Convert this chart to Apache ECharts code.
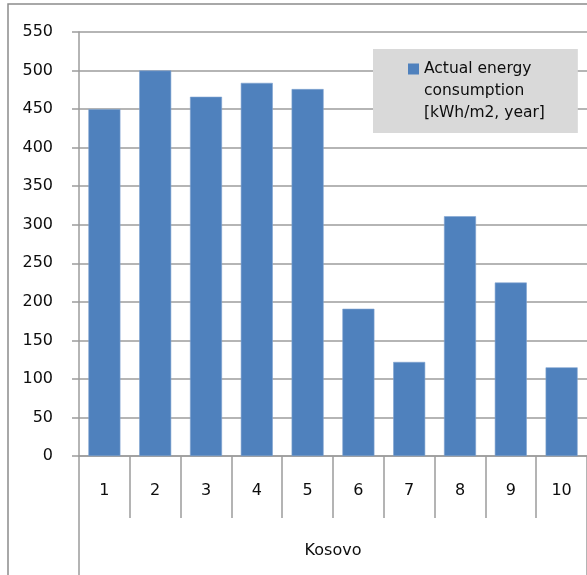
<!DOCTYPE html>
<html>
<head>
<meta charset="utf-8">
<script src="https://cdn.jsdelivr.net/npm/echarts@6/dist/echarts.min.js"></script>
<style>
  html, body { margin: 0; padding: 0; background: #ffffff; }
  #chart { width: 587px; height: 575px; }
</style>
</head>
<body>
<div id="chart"></div>
<script>
// Building numbers and their measured consumption
const buildings = ['1', '2', '3', '4', '5', '6', '7', '8', '9', '10'];
const consumption = [450, 500, 466, 484, 476, 191, 122, 311, 225, 115];
const groupLabel = ['Kosovo'];
const seriesName = 'Actual energy consumption [kWh/m2, year]';

const FONT = 'DejaVu Sans';
const TEXT = '#0d0d0d';
const GRID_GRAY = '#9c9c9c';

const chart = echarts.init(document.getElementById('chart'), null, { renderer: 'canvas' });

chart.setOption({
  animation: false,
  backgroundColor: '#ffffff',
  textStyle: { fontFamily: FONT },
  grid: { left: 79, top: 32, right: -2, bottom: 119, containLabel: false },
  graphic: [{
    type: 'rect',
    shape: { x: 8, y: 4, width: 700, height: 700 },
    style: { fill: 'none', stroke: '#8c8c8c', lineWidth: 1.5 },
    silent: true
  }],
  legend: {
    left: 373,
    top: 49,
    padding: [9, 33, 9, 29],
    backgroundColor: '#d9d9d9',
    itemWidth: 0,
    itemHeight: 0,
    icon: 'rect',
    selectedMode: false,
    data: [seriesName],
    formatter: function () {
      return '{sq|}{t|Actual energy}\n{i|consumption}\n{i|[kWh/m2, year]}';
    },
    textStyle: {
      fontFamily: FONT,
      fontSize: 15.5,
      color: TEXT,
      lineHeight: 22,
      rich: {
        sq: { width: 11, height: 11, backgroundColor: '#4f81bd' },
        t: { fontFamily: FONT, fontSize: 15.5, color: TEXT, lineHeight: 22, padding: [0, 0, 0, 5] },
        i: { fontFamily: FONT, fontSize: 15.5, color: TEXT, lineHeight: 22, padding: [0, 0, 0, 16] }
      }
    }
  },
  xAxis: [{
    type: 'category',
    data: buildings,
    position: 'bottom',
    axisLine: { show: true, lineStyle: { color: GRID_GRAY, width: 1.5 } },
    axisTick: { show: true, interval: 0, length: 62, lineStyle: { color: GRID_GRAY, width: 1.5 } },
    axisLabel: { interval: 0, margin: 27, fontFamily: FONT, fontSize: 16, color: TEXT }
  }, {
    type: 'category',
    data: groupLabel,
    position: 'bottom',
    offset: 0,
    axisLine: { show: false },
    axisTick: { show: true, interval: 0, length: 125, lineStyle: { color: GRID_GRAY, width: 1.5 } },
    axisLabel: { interval: 0, margin: 87, fontFamily: FONT, fontSize: 16, color: TEXT },
    splitLine: { show: false }
  }],
  yAxis: {
    type: 'value',
    min: 0,
    max: 550,
    interval: 50,
    axisLine: { show: true, lineStyle: { color: GRID_GRAY, width: 1.5 } },
    axisTick: { show: true, length: 7, lineStyle: { color: GRID_GRAY, width: 1.5 } },
    axisLabel: { margin: 26, fontFamily: FONT, fontSize: 16, color: TEXT },
    splitLine: { show: true, lineStyle: { color: GRID_GRAY, width: 1.5 } }
  },
  series: [{
    name: seriesName,
    type: 'bar',
    xAxisIndex: 0,
    data: consumption,
    barWidth: 32,
    itemStyle: { color: '#4f81bd', borderColor: '#7fa3d0', borderWidth: 0.6 }
  }]
});
</script>
</body>
</html>
